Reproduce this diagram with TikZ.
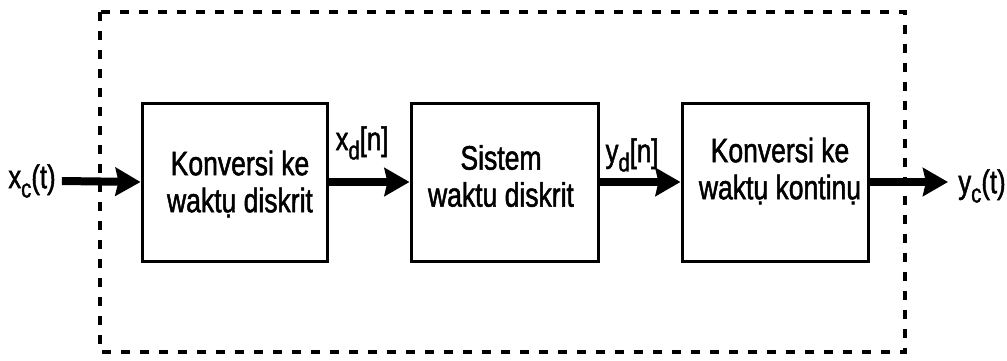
\documentclass[tikz,border=0pt]{standalone}
\usepackage{fontspec}
\setmainfont[FakeStretch=0.78,FakeBold=1.4]{Liberation Sans}
\usetikzlibrary{arrows.meta}
\newcommand{\lowsub}[1]{\raisebox{-0.28em}{\fontsize{26}{26}\selectfont #1}}
\begin{document}
\begin{tikzpicture}[x=1pt,y=-1pt,
  blk/.style={draw=black,line width=3pt,minimum width=#1,minimum height=158pt,inner sep=0pt},
  txt/.style={font=\fontsize{34}{37}\selectfont,align=center,inner sep=0pt},
  lbl/.style={font=\fontsize{33}{36}\selectfont,inner sep=0pt},
  sig/.style={line width=8pt,-{Stealth[length=25pt,width=28pt,inset=3pt]}},
  frame/.style={line width=3.5pt,dash pattern=on 9pt off 10pt}]
\useasboundingbox (0,0) rectangle (1007,360);
\draw[frame] (100,12) rectangle (905,352);
\node[blk=185pt] (b1) at (234.5,182) {};
\node[blk=187pt] (b2) at (504.5,182) {};
\node[blk=186pt] (b3) at (775,182) {};
\node[txt] (t1) at (240,184) {Konversi ke\\waktụ diskrit};
\node[txt] (t2) at (501,176) {Sistem\\waktu diskrit};
\node[txt] (t3) at (780,171) {Konversi ke\\waktụ kontinụ};
\node[lbl] (xc) at (32,181) {x\lowsub{c}(t)};
\node[lbl] (xd) at (362,143) {x\lowsub{d}[n]};
\node[lbl] (yd) at (632,155) {y\lowsub{d}[n]};
\node[lbl] (yc) at (982,186) {y\lowsub{c}(t)};
\coordinate (out) at (948,182);
\draw[sig] (xc.east) ++(6pt,0) coordinate (in) -- (b1.west);
\draw[sig] (b1.east) -- (b2.west);
\draw[sig] (b2.east) -- (b3.west);
\draw[sig] (b3.east) -- (out);
\end{tikzpicture}
\end{document}
